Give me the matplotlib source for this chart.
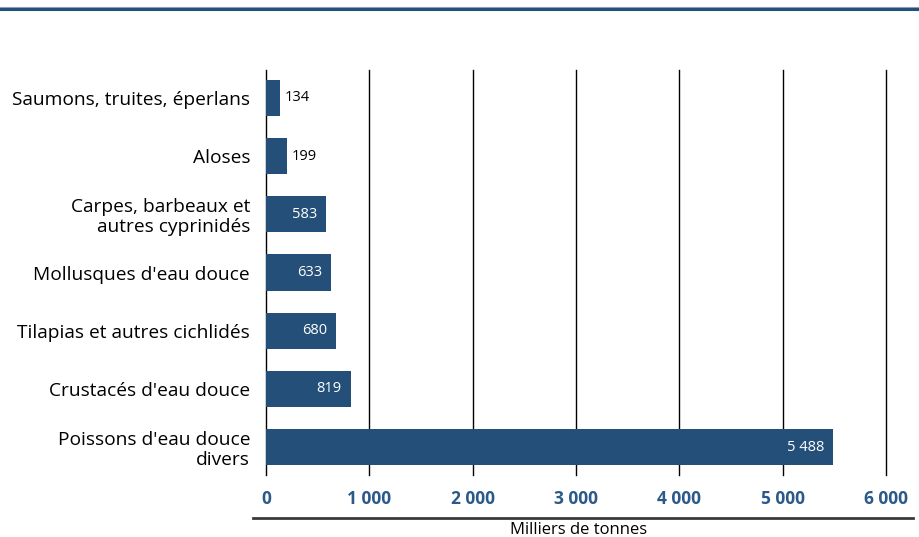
import matplotlib
matplotlib.use("Agg")

import matplotlib.pyplot as plt
from matplotlib.lines import Line2D

categories = ["Poissons d'eau douce\ndivers",
              "Crustacés d'eau douce",
              "Tilapias et autres cichlidés",
              "Mollusques d'eau douce",
              "Carpes, barbeaux et\nautres cyprinidés",
              "Aloses",
              "Saumons, truites, éperlans"]
values = [5488, 819, 680, 633, 583, 199, 134]
value_labels = ["5 488", "819", "680", "633", "583", "199", "134"]
xticks = [0, 1000, 2000, 3000, 4000, 5000, 6000]
xtick_labels = ["0", "1 000", "2 000", "3 000", "4 000", "5 000", "6 000"]

BAR = "#234f79"
TICK = "#2b5a8a"

plt.rcParams["font.family"] = ["Open Sans", "DejaVu Sans"]

W, H = 919, 537
fig = plt.figure(figsize=(W / 100, H / 100), dpi=100)
ax = fig.add_axes([266 / W, 1 - 475 / H, 620 / W, 405 / H])

ys = list(range(len(values)))
ax.barh(ys, values, height=0.62, color=BAR, zorder=3)

for y, v, lab in zip(ys, values, value_labels):
    if v > 400:
        ax.text(v - 85, y, lab, ha="right", va="center", color="white",
                fontsize=10.5, zorder=4)
    else:
        ax.text(v + 45, y, lab, ha="left", va="center", color="black",
                fontsize=10.5, zorder=4)

ax.set_xlim(0, 6000)
ax.set_ylim(-0.48, 6.48)
ax.set_xticks(xticks)
ax.set_xticklabels(xtick_labels, fontweight="bold", color=TICK, fontsize=12.5)
ax.set_yticks(ys)
ax.set_yticklabels(categories, fontsize=13.8, linespacing=1.15)
ax.tick_params(axis="both", length=0)
ax.tick_params(axis="x", pad=11)
ax.tick_params(axis="y", pad=11.5)
for lab in ax.get_yticklabels():
    lab.set_horizontalalignment("right")
    lab.set_multialignment("right")

for x in xticks:
    ax.axvline(x, color="black", lw=1.0, zorder=2, clip_on=False)
for s in ax.spines.values():
    s.set_visible(False)

# rule under tick labels and axis title
fig.add_artist(Line2D([253 / W, 913 / W], [1 - 518 / H] * 2,
                      color="#3a3a3a", lw=2.0))
fig.text(579 / W, 1 - 530 / H, "Milliers de tonnes", ha="center",
         va="center", fontsize=12)

# header band
fig.add_artist(Line2D([0, 1], [1 - 6.8 / H] * 2, color="#8aa4bd", lw=0.8))
fig.add_artist(Line2D([0, 1], [1 - 8.8 / H] * 2, color="#234f79", lw=2.2))

fig.savefig("out.png", dpi=100)
